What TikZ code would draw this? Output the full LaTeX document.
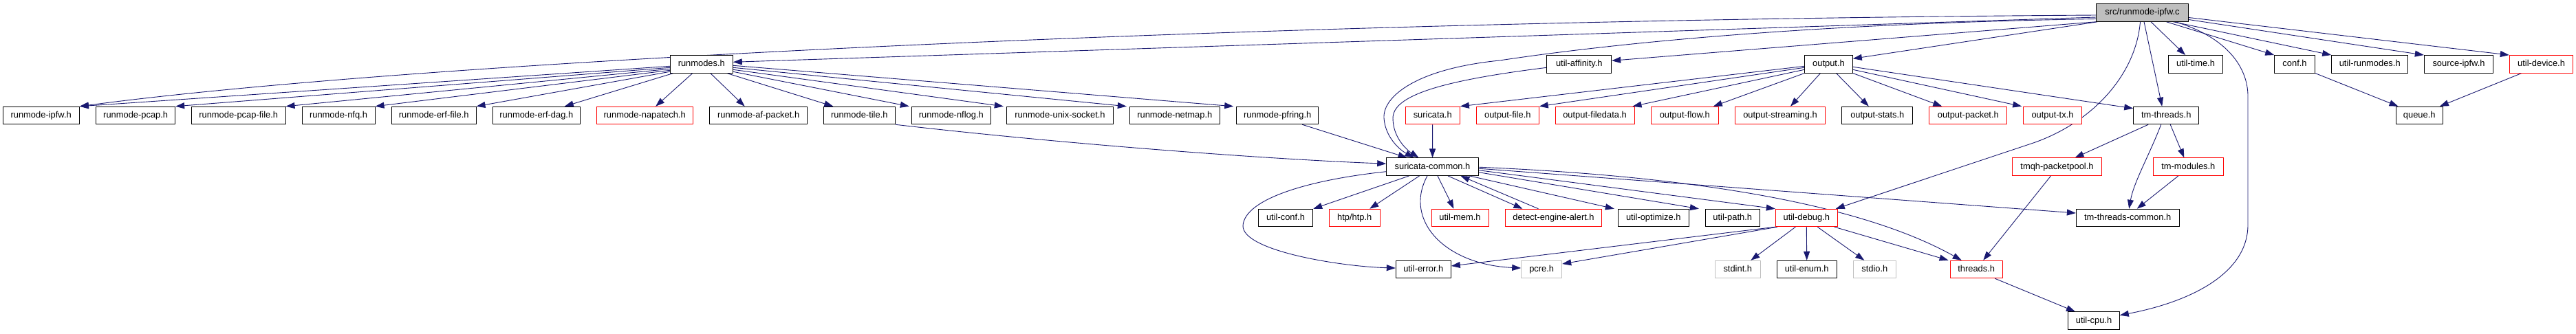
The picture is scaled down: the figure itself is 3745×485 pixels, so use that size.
\documentclass[tikz,border=0pt]{standalone}
\usepackage{fontspec}
\setmainfont{Liberation Sans}
\usetikzlibrary{arrows.meta,backgrounds}
\definecolor{edgeblue}{HTML}{191970}
\definecolor{nodegray}{HTML}{BFBFBF}
\definecolor{nodered}{HTML}{FF0000}
\begin{document}
\begin{tikzpicture}[x=1pt,y=-1pt,
  basebox/.style={rectangle,fill=white,line width=1pt,minimum height=25.5pt,inner sep=0pt,
    text height=9.4pt,text depth=2.6pt,font=\fontsize{12.9}{15}\selectfont,anchor=center},
  hbox/.style={basebox,draw=black},
  rbox/.style={basebox,draw=nodered},
  gbox/.style={basebox,draw=nodegray},
  rootbox/.style={basebox,draw=black,fill=nodegray},
  dep/.style={draw=edgeblue,line width=0.9pt,-{Triangle[length=13pt,width=9pt]}}]
\useasboundingbox (0,0) rectangle (3745,485);
% row 0
\node[rootbox,minimum width=133.6pt] (root) at (3114.5,18.5) {src/runmode-ipfw.c};
% row 1
\node[hbox,minimum width=91pt] (rm) at (1019.8,93.3) {runmodes.h};
\node[hbox,minimum width=93.7pt] (ua) at (2295.8,93.3) {util-affinity.h};
\node[hbox,minimum width=69.6pt] (out) at (2658.5,93.3) {output.h};
\node[hbox,minimum width=79.4pt] (ut) at (3192,93.3) {util-time.h};
\node[hbox,minimum width=58.6pt] (conf) at (3336,93.3) {conf.h};
\node[hbox,minimum width=111pt] (urm) at (3445.2,93.3) {util-runmodes.h};
\node[hbox,minimum width=100.4pt] (sip) at (3574.5,93.3) {source-ipfw.h};
\node[rbox,minimum width=92.4pt] (udev) at (3694.5,93.3) {util-device.h};
% row 2
\node[hbox,minimum width=111.3pt] (ipfw) at (59.7,168) {runmode-ipfw.h};
\node[hbox,minimum width=115pt] (pcap) at (197.2,168) {runmode-pcap.h};
\node[hbox,minimum width=136.7pt] (pcapf) at (346.7,168) {runmode-pcap-file.h};
\node[hbox,minimum width=106pt] (nfq) at (492,168) {runmode-nfq.h};
\node[hbox,minimum width=122.7pt] (erff) at (630.7,168) {runmode-erf-file.h};
\node[hbox,minimum width=127pt] (erfd) at (779.8,168) {runmode-erf-dag.h};
\node[rbox,minimum width=140.3pt] (nap) at (937.2,168) {runmode-napatech.h};
\node[hbox,minimum width=142pt] (afp) at (1102.7,168) {runmode-af-packet.h};
\node[hbox,minimum width=104pt] (tile) at (1249.3,168) {runmode-tile.h};
\node[hbox,minimum width=115pt] (nflog) at (1382.8,168) {runmode-nflog.h};
\node[hbox,minimum width=155.4pt] (unix) at (1541,168) {runmode-unix-socket.h};
\node[hbox,minimum width=131pt] (netmap) at (1707.8,168) {runmode-netmap.h};
\node[hbox,minimum width=119pt] (pfring) at (1857.2,168) {runmode-pfring.h};
\node[rbox,minimum width=79.3pt] (sur) at (2082.7,168) {suricata.h};
\node[rbox,minimum width=91pt] (ofile) at (2191.8,168) {output-file.h};
\node[rbox,minimum width=115pt] (ofd) at (2318.5,168) {output-filedata.h};
\node[rbox,minimum width=98pt] (oflow) at (2449.3,168) {output-flow.h};
\node[rbox,minimum width=131.4pt] (ostr) at (2588,168) {output-streaming.h};
\node[hbox,minimum width=103.3pt] (ostat) at (2729.3,168) {output-stats.h};
\node[rbox,minimum width=112.7pt] (opkt) at (2861.3,168) {output-packet.h};
\node[rbox,minimum width=84.6pt] (otx) at (2984,168) {output-tx.h};
\node[hbox,minimum width=95pt] (tmt) at (3149.2,168) {tm-threads.h};
\node[hbox,minimum width=68.3pt] (queue) at (3517.2,168) {queue.h};
% row 3
\node[hbox,minimum width=133.6pt] (sc) at (2082.5,242.7) {suricata-common.h};
\node[rbox,minimum width=129.6pt] (tmqh) at (2990.5,242.7) {tmqh-packetpool.h};
\node[rbox,minimum width=102pt] (tmm) at (3181.3,242.7) {tm-modules.h};
% row 4
\node[hbox,minimum width=79.4pt] (uconf) at (1869,317) {util-conf.h};
\node[rbox,minimum width=73.7pt] (htp) at (1969.2,317) {htp/htp.h};
\node[rbox,minimum width=83pt] (umem) at (2122.5,317) {util-mem.h};
\node[rbox,minimum width=140.4pt] (dea) at (2258.5,317) {detect-engine-alert.h};
\node[hbox,minimum width=103pt] (uopt) at (2403.8,317) {util-optimize.h};
\node[hbox,minimum width=78.7pt] (upath) at (2518.7,317) {util-path.h};
\node[rbox,minimum width=90pt] (ud) at (2626.3,317) {util-debug.h};
\node[hbox,minimum width=149.7pt] (ttc) at (3093.2,317) {tm-threads-common.h};
% row 5
\node[hbox,minimum width=80pt] (uerr) at (2069.3,392) {util-error.h};
\node[gbox,minimum width=59pt] (pcre) at (2241.2,392) {pcre.h};
\node[gbox,minimum width=66pt] (stdint) at (2526.3,392) {stdint.h};
\node[hbox,minimum width=87.3pt] (uenum) at (2626.7,392) {util-enum.h};
\node[gbox,minimum width=62pt] (stdio) at (2725.3,392) {stdio.h};
\node[rbox,minimum width=76.3pt] (thr) at (2873.2,392) {threads.h};
% row 6
\node[hbox,minimum width=74.6pt] (ucpu) at (3044,466.7) {util-cpu.h};

\begin{scope}[on background layer]
% root
\draw[dep] ([yshift=-3.5pt]root.west) .. controls (1800,30) and (600,90) .. (ipfw.north east);
\draw[dep] ([yshift=-6.5pt]root.west) -- ([yshift=3pt]rm.east);
\draw[dep] ([yshift=-9pt]root.west) .. controls (2700,33) and (2400,55) .. (2180,88)
   .. controls (2060,100) and (2010,140) .. (2012,172) .. controls (2014,200) and (2035,218) .. ([xshift=-27pt]sc.north);
\draw[dep] (root.south west) -- ([yshift=5pt]ua.east);
\draw[dep] ([xshift=2pt]root.south west) -- ([yshift=8pt]out.east);
\draw[dep] ([xshift=-3pt]root.south) .. controls (3105,110) and (3040,181) .. (2950,210) -- ([xshift=-3pt]ud.north east);
\draw[dep] ([xshift=2.5pt]root.south) -- ([xshift=-6pt]tmt.north);
\draw[dep] ([xshift=12.5pt]root.south) -- ([xshift=-15pt]ut.north);
\draw[dep] ([xshift=35pt]root.south) -- (conf.north west);
\draw[dep] ([xshift=45pt]root.south) -- (urm.north west);
\draw[dep] ([yshift=-10pt]root.east) -- (sip.north west);
\draw[dep] ([yshift=-7pt]root.east) -- (udev.north west);
\draw[dep] ([xshift=48pt]root.south) .. controls (3240,55) and (3268,100) .. (3268,140) -- (3268,327)
   .. controls (3268,400) and (3180,440) .. ([yshift=8pt]ucpu.east);
% runmodes.h
\draw[dep] ([yshift=-3pt]rm.west) -- (ipfw.north east);
\draw[dep] ([yshift=-5pt]rm.west) -- (pcap.north east);
\draw[dep] ([yshift=-7pt]rm.west) -- (pcapf.north east);
\draw[dep] ([yshift=-9pt]rm.west) -- (nfq.north east);
\draw[dep] ([yshift=-11pt]rm.west) -- (erff.north east);
\draw[dep] ([xshift=5pt]rm.south west) -- ([xshift=-23pt]erfd.north east);
\draw[dep] ([xshift=-13pt]rm.south) -- ([xshift=16pt]nap.north);
\draw[dep] ([xshift=13pt]rm.south) -- ([xshift=-20pt]afp.north);
\draw[dep] ([xshift=37pt]rm.south) -- ([xshift=-38pt]tile.north);
\draw[dep] ([yshift=-11pt]rm.east) -- ([xshift=-3pt]nflog.north west);
\draw[dep] ([yshift=-8pt]rm.east) -- ([xshift=-4pt]unix.north west);
\draw[dep] ([yshift=-5pt]rm.east) -- ([xshift=-4pt]netmap.north west);
\draw[dep] ([yshift=-2pt]rm.east) -- ([xshift=-4pt]pfring.north west);
% into suricata-common
\draw[dep] ([xshift=36pt]pfring.south) -- ([xshift=-37pt]sc.north);
\draw[dep] (tile.south east) .. controls (1550,210) and (1850,232) .. ([yshift=4.5pt]sc.west);
\draw[dep] ([yshift=-5pt]ua.west) .. controls (2090,118) and (2025,140) .. (2025,172)
   .. controls (2025,200) and (2045,218) .. ([xshift=-20pt]sc.north);
\draw[dep] (sur) -- (sc);
% output.h
\draw[dep] ([yshift=-3pt]out.west) -- (sur.north east);
\draw[dep] ([yshift=-5pt]out.west) -- (ofile.north east);
\draw[dep] ([yshift=-8pt]out.west) -- ([xshift=-3pt]ofd.north east);
\draw[dep] (out.south west) -- ([xshift=-8pt]oflow.north east);
\draw[dep] ([xshift=-12pt]out.south) -- ([xshift=15pt]ostr.north);
\draw[dep] ([xshift=11pt]out.south) -- ([xshift=-12.5pt]ostat.north);
\draw[dep] (out.south east) -- ([xshift=-38pt]opkt.north);
\draw[dep] ([yshift=-8pt]out.east) -- ([xshift=-2pt]otx.north west);
\draw[dep] ([yshift=-4pt]out.east) -- ([yshift=-3pt]tmt.north west);
% tm-threads and friends
\draw[dep] ([xshift=-26pt]tmt.south) -- ([xshift=26pt]tmqh.north);
\draw[dep] ([xshift=6pt]tmt.south) -- ([xshift=-6pt]tmm.north);
\draw[dep] ([xshift=-7.5pt]tmt.south) .. controls (3125,225) and (3102,265) .. ([xshift=2pt]ttc.north);
\draw[dep] ([xshift=-14.5pt]tmm.south) -- ([xshift=13.5pt]ttc.north);
\draw[dep] ([xshift=-9pt]tmqh.south) -- ([xshift=10pt]thr.north);
\draw[dep] ([xshift=27pt]thr.south) -- ([xshift=-27pt]ucpu.north);
\draw[dep] (conf.south east) -- ([xshift=4pt]queue.north west);
\draw[dep] ([xshift=18pt]udev.south west) -- ([xshift=-5pt]queue.north east);
% suricata-common.h
\draw[dep] ([xshift=-34pt]sc.south) -- (uconf.north east);
\draw[dep] ([xshift=-19pt]sc.south) -- ([xshift=22pt]htp.north);
\draw[dep] ([xshift=7.5pt]sc.south) -- ([xshift=-9pt]umem.north);
\draw[dep] ([xshift=22.5pt]sc.south) -- ([xshift=-45pt]dea.north);
\draw[dep] ([xshift=-22pt]dea.north) -- ([xshift=41pt]sc.south);
\draw[dep] ([xshift=54pt]sc.south) -- ([xshift=-5pt]uopt.north west);
\draw[dep] ([yshift=-8pt]sc.east) -- ([xshift=-9pt]upath.north west);
\draw[dep] ([yshift=-5pt]sc.east) -- (ud.north west);
\draw[dep] ([yshift=-2.5pt]sc.east) -- ([yshift=7pt]ttc.west);
\draw[dep] ([yshift=-0.5pt]sc.east) .. controls (2500,258) and (2720,305) .. ([xshift=-21.5pt]thr.north);
\draw[dep] ([yshift=-7pt]sc.west) .. controls (1900,262) and (1810,290) .. (1807,328)
   .. controls (1805,365) and (1950,388) .. ([yshift=2pt]uerr.west);
\draw[dep] ([xshift=-7.5pt]sc.south) .. controls (2040,320) and (2100,385) .. ([yshift=2pt]pcre.west);
% util-debug.h
\draw[dep] ([xshift=-16pt]ud.south) -- ([xshift=19pt]stdint.north);
\draw[dep] (ud.south) -- (uenum.north);
\draw[dep] ([xshift=16pt]ud.south) -- ([xshift=-15pt]stdio.north);
\draw[dep] ([xshift=-5pt]ud.south east) -- ([xshift=-2pt]thr.north west);
\draw[dep] (ud.south west) -- ([yshift=5pt]uerr.east);
\draw[dep] ([xshift=3pt]ud.south west) -- ([yshift=8pt]pcre.east);
\end{scope}
\end{tikzpicture}
\end{document}
